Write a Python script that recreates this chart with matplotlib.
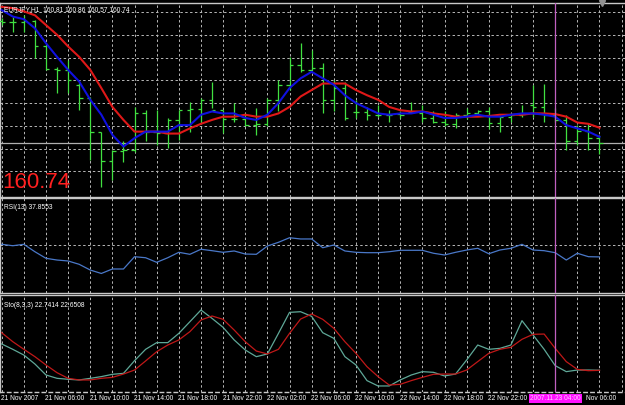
"""Recreate a MetaTrader EURJPY H1 chart with RSI and Stochastic panels."""
import matplotlib
matplotlib.use("Agg")
import matplotlib.pyplot as plt

plt.rcParams['font.family'] = ['Liberation Sans', 'DejaVu Sans']

# --- data -----------------------------------------------------------------
opens = [162.61, 162.60, 162.60, 162.61, 162.23, 161.87, 161.86, 161.63, 161.43, 160.90,
         160.46, 160.61, 160.63, 161.20, 160.90, 160.89, 161.09, 161.24, 161.26, 161.40,
         161.24, 161.10, 161.10, 161.01, 161.03, 161.40, 161.63, 161.94, 161.86, 161.89,
         161.40, 161.58, 161.21, 161.21, 161.17, 161.17, 161.18, 161.21, 161.20, 161.12,
         161.06, 161.03, 161.17, 161.20, 161.23, 161.04, 161.14, 161.17, 161.32, 161.29,
         161.17, 161.09, 160.77, 160.92, 160.81]
highs = [162.66, 162.67, 162.70, 162.63, 162.24, 161.91, 162.01, 161.66, 161.45, 160.91,
         160.63, 160.76, 161.29, 161.24, 161.24, 161.12, 161.24, 161.37, 161.42, 161.68,
         161.24, 161.35, 161.20, 161.27, 161.42, 161.70, 162.06, 162.27, 162.17, 161.96,
         161.70, 161.68, 161.40, 161.29, 161.32, 161.24, 161.22, 161.37, 161.32, 161.22,
         161.22, 161.19, 161.27, 161.24, 161.29, 161.17, 161.19, 161.32, 161.63, 161.65,
         161.27, 161.17, 161.01, 161.04, 160.86]
lows = [162.55, 162.45, 162.45, 162.04, 161.86, 161.50, 161.50, 161.24, 160.47, 160.06,
        160.17, 160.45, 160.60, 160.76, 160.70, 160.66, 160.78, 160.91, 161.04, 161.27,
        160.89, 161.06, 160.99, 160.86, 160.99, 161.22, 161.55, 161.83, 161.86, 161.19,
        161.22, 161.09, 161.12, 161.09, 161.14, 161.06, 161.12, 161.19, 161.06, 161.05,
        160.99, 160.96, 161.10, 161.17, 160.95, 160.91, 161.06, 161.14, 161.14, 161.06,
        161.06, 160.63, 160.70, 160.63, 160.57]
closes = [162.60, 162.60, 162.61, 162.23, 161.87, 161.86, 161.70, 161.43, 160.90, 160.46,
          160.61, 160.63, 161.20, 160.90, 160.89, 161.09, 161.24, 161.26, 161.40, 161.24,
          161.10, 161.10, 161.01, 161.03, 161.40, 161.63, 161.94, 161.86, 161.89, 161.40,
          161.58, 161.12, 161.21, 161.17, 161.17, 161.17, 161.17, 161.21, 161.12, 161.06,
          161.03, 161.17, 161.20, 161.23, 161.04, 161.14, 161.17, 161.18, 161.29, 161.17,
          161.09, 160.77, 160.92, 160.81, 160.74]

ma_fast = [162.78, 162.68, 162.64, 162.50, 162.27, 162.06, 161.86, 161.68, 161.40, 161.17,
           160.86, 160.68, 160.81, 160.91, 160.91, 160.91, 161.01, 161.01, 161.17, 161.22,
           161.19, 161.19, 161.12, 161.09, 161.17, 161.35, 161.58, 161.73, 161.83, 161.73,
           161.63, 161.47, 161.35, 161.27, 161.19, 161.17, 161.19, 161.19, 161.22, 161.17,
           161.12, 161.12, 161.14, 161.17, 161.14, 161.14, 161.17, 161.19, 161.19, 161.17,
           161.14, 161.01, 160.96, 160.91, 160.83]
ma_slow = [162.83, 162.81, 162.76, 162.70, 162.55, 162.40, 162.22, 162.06, 161.86, 161.58,
           161.29, 161.09, 160.91, 160.91, 160.91, 160.88, 160.88, 160.96, 161.03, 161.09,
           161.14, 161.14, 161.17, 161.14, 161.14, 161.19, 161.29, 161.45, 161.55, 161.65,
           161.65, 161.65, 161.55, 161.47, 161.40, 161.29, 161.24, 161.22, 161.22, 161.19,
           161.17, 161.14, 161.14, 161.14, 161.15, 161.17, 161.17, 161.17, 161.19, 161.19,
           161.18, 161.14, 161.05, 161.03, 160.97]

rsi = [51.1, 49.6, 51.1, 43.3, 36.4, 34.6, 33.6, 30.1, 24.1, 20.5,
       25.2, 25.2, 38.1, 37.0, 32.2, 37.0, 42.7, 40.6, 45.9, 44.4,
       42.7, 44.1, 40.9, 40.6, 49.3, 53.2, 58.0, 56.7, 56.7, 47.5,
       50.4, 44.1, 42.7, 42.3, 42.3, 43.3, 44.8, 44.8, 44.8, 41.7,
       39.9, 42.7, 45.1, 46.9, 41.2, 45.1, 46.9, 51.1, 45.1, 44.4,
       42.3, 34.6, 41.7, 38.1, 37.86]

sto_main = [50.3, 44.7, 38.7, 29.3, 17.8, 14.3, 13.3, 12.6, 14.3, 16.1,
            18.5, 19.5, 32.8, 44.7, 51.7, 51.7, 61.4, 73.6, 85.9, 77.1,
            67.7, 54.5, 44.0, 37.0, 39.8, 61.4, 83.4, 84.1, 79.2, 62.1,
            56.2, 37.0, 28.3, 11.9, 6.3, 6.3, 12.6, 17.8, 21.3, 20.6,
            16.8, 18.8, 33.5, 49.2, 44.7, 45.7, 49.2, 74.7, 59.7, 44.7,
            27.6, 21.3, 23.0, 23.0, 22.74]
sto_signal = [62.1, 52.7, 44.7, 37.0, 28.3, 20.2, 14.3, 12.6, 12.6, 14.3,
              15.3, 18.8, 23.0, 32.5, 42.2, 49.2, 54.5, 63.2, 75.4, 79.6,
              76.1, 64.9, 52.7, 42.9, 39.8, 44.7, 61.4, 76.4, 81.7, 76.1,
              66.7, 52.7, 40.5, 26.5, 16.1, 7.3, 8.0, 11.9, 15.3, 18.5,
              18.8, 18.8, 23.0, 31.8, 40.5, 44.7, 46.8, 55.2, 60.4, 60.7,
              45.7, 31.8, 23.7, 22.3, 22.65]

# time labels sit on every 4th bar; the ones under the cursor box are cut off
time_labels = ['21 Nov 2007', '21 Nov 06:00', '21 Nov 10:00', '21 Nov 14:00',
               '21 Nov 18:00', '21 Nov 22:00', '22 Nov 02:00', '22 Nov 06:00',
               '22 Nov 10:00', '22 Nov 14:00', '22 Nov 18:00', '22 Nov 22:00',
               '', 'Nov 06:00']
price_grid = [160.30, 160.65, 161.00, 161.35, 161.70, 162.05, 162.40, 162.75]
cursor_bar = 50
cursor_label = '2007.11.23 04:00'
header = 'EURJPY,H1  160.81 160.86 160.57 160.74'

# --- figure ---------------------------------------------------------------
W, H = 625, 405
BG = 'black'
GRID = '#b8b8b8'
BORDER = '#c8c8c8'
BAR_PX = 11.07
X0_PX = 1.7
FS = 4.8
xlim = (-X0_PX / BAR_PX, (W - X0_PX) / BAR_PX)

fig = plt.figure(figsize=(W / 100, H / 100), dpi=100, facecolor=BG)


def add_panel(top_px, bottom_px):
    """Add an axes spanning the given pixel rows."""
    ax = fig.add_axes([0, 1 - bottom_px / H, 1, (bottom_px - top_px) / H])
    ax.set_facecolor(BG)
    ax.set_xlim(*xlim)
    ax.set_xticks([])
    ax.set_yticks([])
    for side in ('top', 'bottom', 'left'):
        ax.spines[side].set_color(BORDER)
        ax.spines[side].set_linewidth(1.0)
    ax.spines['right'].set_visible(False)
    for k in range(0, 58, 2):
        ax.axvline(k, color=GRID, lw=0.7, ls=(0, (2.5, 2.5)), zorder=1)
    ax.axvline(cursor_bar, color='#c060c0', lw=0.9, zorder=5)
    return ax


n = len(closes)
xs = list(range(n))

# main price panel
ax = add_panel(3, 196.5)
ax.set_ylim(162.935 - 196.5 / 65, 162.935 - 3 / 65)
for p in price_grid:
    ax.axhline(p, color=GRID, lw=0.7, ls=(0, (2.5, 2.5)), zorder=1)
ax.axhline(closes[-1], color='#b0b0b0', lw=0.9, zorder=1)

bar_color = '#40e040'
ax.vlines(xs, lows, highs, color=bar_color, lw=0.9, zorder=3)
ax.hlines(opens, [x - 0.3 for x in xs], xs, color=bar_color, lw=0.9, zorder=3)
ax.hlines(closes, xs, [x + 0.3 for x in xs], color=bar_color, lw=0.9, zorder=3)
ax.plot(xs, ma_slow, color='#e01818', lw=1.5, zorder=4)
ax.plot(xs, ma_fast, color='#1010e0', lw=1.5, zorder=4)

ax.text(0.006, 0.982, header, transform=ax.transAxes, color='white',
        fontsize=FS, va='top', ha='left', zorder=6)
ax.text(0.004, 0.02, f'{closes[-1]:.2f}', transform=ax.transAxes,
        color='#ff2020', fontsize=16, va='bottom', ha='left', zorder=6)
ax.plot([54.2], [ax.get_ylim()[1]], marker='v', color='#909090',
        markersize=4, clip_on=False, zorder=6)

# RSI panel
ax_rsi = add_panel(197.7, 293)
ax_rsi.set_ylim(0, 100)
ax_rsi.axhline(50, color=GRID, lw=0.7, ls=(0, (2.5, 2.5)), zorder=1)
ax_rsi.plot(xs, rsi, color='#4a78c8', lw=0.9, zorder=3)
ax_rsi.text(0.006, 0.93, 'RSI(13) 37.8553', transform=ax_rsi.transAxes,
            color='white', fontsize=FS, va='top', ha='left')

# Stochastic panel
ax_sto = add_panel(295, 391.5)
ax_sto.set_ylim(0.5, 101.6)
ax_sto.spines['bottom'].set_linestyle((0, (2.5, 2.5)))
ax_sto.plot(xs, sto_main, color='#5fa898', lw=0.9, zorder=3)
ax_sto.plot(xs, sto_signal, color='#c01818', lw=0.9, zorder=3)
ax_sto.text(0.006, 0.93, 'Sto(8,3,3) 22.7414 22.6508', transform=ax_sto.transAxes,
            color='white', fontsize=FS, va='top', ha='left')

# time axis labels
tx = ax_sto.get_xaxis_transform()
for i, lab in enumerate(time_labels):
    if not lab:
        continue
    xpos = i * 4 - 0.05
    if lab.startswith('Nov'):
        xpos = i * 4 + 0.75  # "23 " hidden under the cursor box
    ax_sto.text(xpos, -0.035, lab, transform=tx, color='white',
                fontsize=FS, va='top', ha='left', clip_on=False)
ax_sto.text(cursor_bar, -0.035, cursor_label, transform=tx, color='#ffc8ff',
            fontsize=FS, va='top', ha='center', clip_on=False, zorder=10,
            bbox=dict(boxstyle='square,pad=0.2', fc='#ff10ff', ec='none'))

fig.savefig('out.png', dpi=100, facecolor=BG)
plt.close(fig)
